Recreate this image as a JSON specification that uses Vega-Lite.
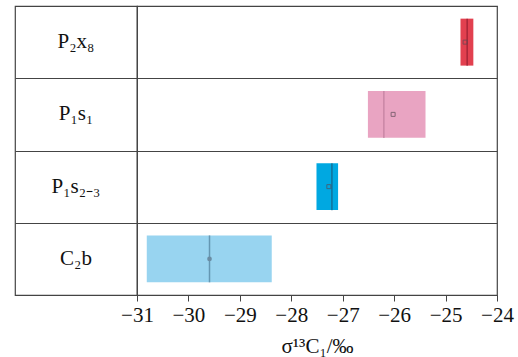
{
  "$schema": "https://vega.github.io/schema/vega-lite/v6.json",
  "padding": {"left": 14, "top": 5, "right": 2, "bottom": 2},
  "background": "white",
  "spacing": 0,
  "bounds": "flush",
  "config": {
    "view": {"stroke": "#444", "strokeWidth": 1.2},
    "font": "Liberation Serif",
    "concat": {"spacing": 0}
  },
  "data": {
    "values": [
      {"cat": "P2x8", "label": "P₂x₈", "q1": -24.71, "q3": -24.46, "median": -24.58, "mean": -24.62},
      {"cat": "P1s1", "label": "P₁s₁", "q1": -26.51, "q3": -25.39, "median": -26.2, "mean": -26.02},
      {"cat": "P1s2-3", "label": "P₁s₂₋₃", "q1": -27.51, "q3": -27.09, "median": -27.21, "mean": -27.27},
      {"cat": "C2b", "label": "C₂b", "q1": -30.81, "q3": -28.38, "median": -29.59, "mean": -29.59}
    ]
  },
  "hconcat": [
    {
      "width": 122,
      "height": 289,
      "mark": {"type": "text", "fontSize": 21, "font": "Liberation Serif", "color": "#111"},
      "encoding": {
        "y": {
          "field": "cat", "type": "nominal",
          "sort": ["P2x8", "P1s1", "P1s2-3", "C2b"],
          "scale": {"paddingInner": 0, "paddingOuter": 0},
          "axis": {"grid": true, "tickBand": "extent", "labels": false, "ticks": false, "domain": false, "title": null, "gridColor": "#444", "gridOpacity": 1, "gridWidth": 1.2, "minExtent": 0, "maxExtent": 0, "offset": 0}
        },
        "text": {"field": "label"}
      }
    },
    {
      "width": 360,
      "height": 289,
      "resolve": {"scale": {"color": "independent"}},
      "encoding": {
        "y": {
          "field": "cat", "type": "nominal",
          "sort": ["P2x8", "P1s1", "P1s2-3", "C2b"],
          "scale": {"paddingInner": 0, "paddingOuter": 0},
          "axis": {"grid": true, "tickBand": "extent", "labels": false, "ticks": false, "domain": false, "title": null, "gridColor": "#444", "gridOpacity": 1, "gridWidth": 1.2, "minExtent": 0, "maxExtent": 0, "offset": 0}
        }
      },
      "layer": [
        {
          "mark": {"type": "bar", "height": {"band": 0.65}},
          "encoding": {
            "x": {
              "field": "q1", "type": "quantitative",
              "scale": {"domain": [-31, -24], "nice": false, "zero": false},
              "axis": {
                "values": [-31, -30, -29, -28, -27, -26, -25, -24],
                "tickSize": 6, "tickColor": "#444", "domain": false, "labelFlush": false, "labelOverlap": false,
                "labelFontSize": 21, "labelFont": "Liberation Serif", "labelColor": "#111", "labelPadding": 3,
                "title": "σ¹³C₁/‰", "titleFont": "Liberation Serif", "titleFontSize": 21, "titleFontWeight": "normal", "titleColor": "#111", "titlePadding": 10,
                "grid": false
              }
            },
            "x2": {"field": "q3"},
            "color": {
              "field": "cat", "type": "nominal", "legend": null,
              "scale": {"domain": ["P2x8", "P1s1", "P1s2-3", "C2b"], "range": ["#E2404F", "#E9A4C2", "#00A8E1", "#98D4F0"]}
            }
          }
        },
        {
          "mark": {"type": "tick", "size": 47, "thickness": 1.5},
          "encoding": {
            "x": {"field": "median", "type": "quantitative"},
            "color": {
              "field": "cat", "type": "nominal", "legend": null,
              "scale": {"domain": ["P2x8", "P1s1", "P1s2-3", "C2b"], "range": ["#8E1A2E", "#BC7A9A", "#1A5A7A", "#4E7D98"]}
            }
          }
        },
        {
          "transform": [{"filter": "datum.cat !== 'C2b'"}],
          "mark": {"type": "point", "shape": "square", "size": 16, "filled": false, "stroke": "#5a4a55", "strokeWidth": 1},
          "encoding": {
            "x": {"field": "mean", "type": "quantitative"}
          }
        },
        {
          "transform": [{"filter": "datum.cat === 'C2b'"}],
          "mark": {"type": "point", "shape": "circle", "size": 22, "filled": true, "color": "#6a8ca3", "opacity": 1},
          "encoding": {
            "x": {"field": "mean", "type": "quantitative"}
          }
        }
      ]
    }
  ]
}
